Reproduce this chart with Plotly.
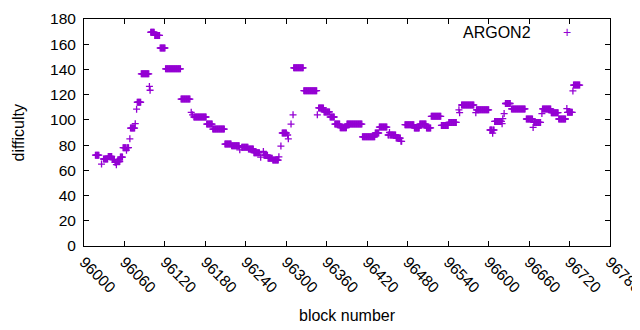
import plotly.graph_objects as go

# Run-length data: each run = consecutive blocks with one difficulty
run_start = [96017, 96026, 96029, 96036, 96042, 96046, 96048, 96049, 96054, 96058,
             96063, 96064, 96068, 96069, 96076, 96078, 96079, 96085, 96097, 96098,
             96099, 96105, 96113, 96121, 96144, 96159, 96161, 96163, 96182, 96191,
             96209, 96219, 96231, 96234, 96244, 96252, 96262, 96266, 96267, 96273,
             96280, 96289, 96292, 96294, 96302, 96303, 96307, 96310, 96311, 96326,
             96346, 96348, 96356, 96365, 96372, 96380, 96390, 96413, 96432, 96438,
             96451, 96453, 96454, 96463, 96470, 96476, 96490, 96498, 96508, 96515,
             96530, 96541, 96556, 96557, 96560, 96581, 96582, 96602, 96606, 96607,
             96609, 96620, 96621, 96623, 96625, 96634, 96656, 96666, 96667, 96679,
             96680, 96693, 96704, 96716, 96717, 96725, 96726]
run_end = [96022, 96026, 96035, 96041, 96045, 96047, 96048, 96053, 96057, 96062,
           96063, 96066, 96068, 96075, 96076, 96078, 96084, 96096, 96097, 96098,
           96104, 96112, 96120, 96143, 96157, 96159, 96161, 96181, 96190, 96208,
           96218, 96230, 96231, 96243, 96251, 96260, 96262, 96266, 96272, 96279,
           96288, 96289, 96292, 96300, 96302, 96303, 96307, 96310, 96325, 96345,
           96346, 96355, 96364, 96371, 96379, 96389, 96412, 96431, 96437, 96449,
           96452, 96453, 96462, 96469, 96471, 96489, 96497, 96507, 96514, 96529,
           96540, 96552, 96556, 96557, 96578, 96581, 96600, 96605, 96606, 96608,
           96619, 96620, 96621, 96623, 96632, 96654, 96665, 96666, 96677, 96679,
           96692, 96703, 96714, 96716, 96724, 96725, 96735]
run_value = [72, 65, 69, 71, 68.5, 66.5, 64.5, 67, 70.5, 78,
             76, 78, 85, 93.5, 97, 108.5, 114, 136.5, 126.5, 123.5,
             169.5, 167, 157, 140.5, 116.5, 106, 104, 102.3, 96.7, 92.7,
             80.8, 79.5, 76.3, 78.4, 76.9, 74, 70.4, 75, 72, 69.6,
             68.1, 70.7, 79.2, 89.6, 88, 85, 96.7, 104, 141.3, 123.2,
             104, 109.5, 106.3, 102.3, 96.7, 93.8, 96.7, 86.6, 89.6, 94.3,
             88, 90, 88, 85.6, 83, 96.2, 93.6, 96.7, 93.6, 102.8,
             95.6, 98, 108, 105.7, 111.8, 105.7, 108, 92, 89.5, 92,
             98.8, 97, 101, 105, 113, 108.7, 100.7, 94, 98, 105,
             108.7, 105.7, 100.7, 109, 106, 123, 127.6]

x_ticks = [96000, 96060, 96120, 96180, 96240, 96300, 96360, 96420, 96480,
           96540, 96600, 96660, 96720, 96780]
y_ticks = [0, 20, 40, 60, 80, 100, 120, 140, 160, 180]

blocks, diffs = [], []
for s, e, v in zip(run_start, run_end, run_value):
    for b in range(s, e + 1):
        blocks.append(b)
        diffs.append(v)

COLOR = "#9400d3"
FONT = "Liberation Sans, Arial, sans-serif"

fig = go.Figure()
fig.add_trace(go.Scatter(
    x=blocks, y=diffs, mode="markers", name="ARGON2", showlegend=False,
    marker=dict(symbol="cross-thin", size=5, color=COLOR,
                line=dict(color=COLOR, width=1.3)),
))

axis_common = dict(showline=True, linecolor="black", linewidth=1, mirror="ticks",
                   ticks="inside", ticklen=5, tickcolor="black", showgrid=False,
                   zeroline=False, automargin=False,
                   tickfont=dict(family=FONT, size=15.5, color="black"))

fig.update_xaxes(range=[96000, 96780], tickvals=x_ticks,
                 ticktext=[str(t) for t in x_ticks], tickangle=45,
                 ticklabeloverflow="allow", **axis_common)
fig.update_yaxes(range=[0, 180], tickvals=y_ticks,
                 ticktext=[str(t) for t in y_ticks], ticklabelstandoff=4, **axis_common)

fig.add_annotation(text="block number", xref="paper", yref="paper", x=0.5, y=0,
                   yshift=-69, showarrow=False, yanchor="middle",
                   font=dict(family=FONT, size=16, color="black"))
fig.add_annotation(text="difficulty", xref="paper", yref="paper", x=0, y=0.5,
                   xshift=-66, showarrow=False, textangle=-90, xanchor="center",
                   font=dict(family=FONT, size=16, color="black"))
fig.add_annotation(text="ARGON2", xref="paper", yref="paper", x=0.853, y=1,
                   yshift=-13, showarrow=False, xanchor="right", yanchor="middle",
                   font=dict(family=FONT, size=16, color="black"))
fig.add_annotation(text="+", xref="paper", yref="paper", x=0.918, y=1,
                   yshift=-13, showarrow=False, xanchor="center", yanchor="middle",
                   font=dict(family=FONT, size=14, color=COLOR))

# page body has an 8px margin; size the figure so the plot area lands where the reference has it
fig.update_layout(width=632, height=322, plot_bgcolor="white", paper_bgcolor="white",
                  margin=dict(l=76, r=30, t=11, b=84, pad=0))
fig.write_html("out.html")
